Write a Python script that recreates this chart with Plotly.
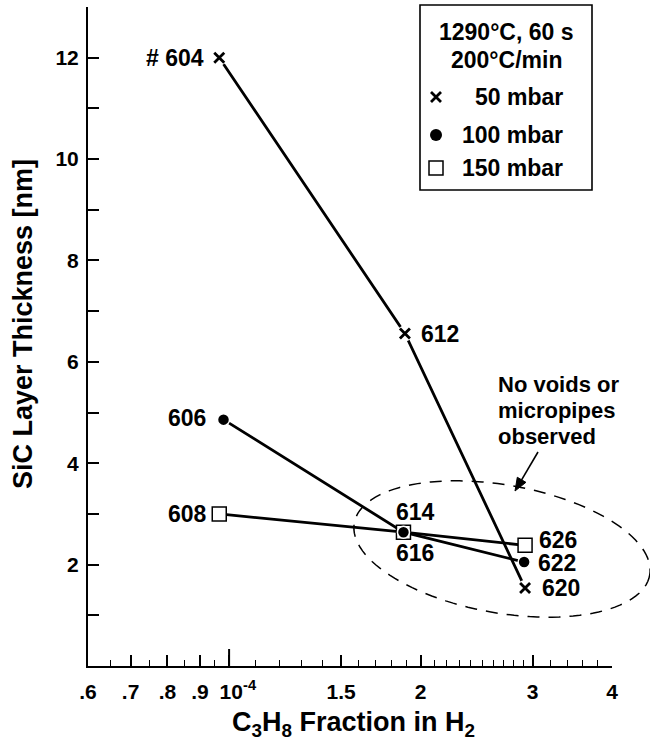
import math
import plotly.graph_objects as go

# ---------------- data (C3H8 fraction in units of 1e-4, thickness in nm) --------------
run_50 = ["# 604", "612", "620"]
x_50 = [0.965, 1.89, 2.92]
y_50 = [12.0, 6.56, 1.54]

run_100 = ["606", "616", "622"]
x_100 = [0.98, 1.88, 2.91]
y_100 = [4.86, 2.64, 2.05]

run_150 = ["608", "614", "626"]
x_150 = [0.965, 1.88, 2.92]
y_150 = [3.0, 2.64, 2.38]

# label placement: (anchor side, x shift px, y shift px)
place_50 = [("right", -13, 0), ("left", 14, -1), ("left", 15, 0)]
place_100 = [("right", -16, 2), ("left", -9, -21), ("left", 12, -1)]
place_150 = [("right", -10, 0), ("left", -9, 20), ("left", 12, 5)]

x_major = [0.6, 0.7, 0.8, 0.9, 1.0, 1.5, 2.0, 3.0, 4.0]
x_major_text = [".6", ".7", ".8", ".9", "&nbsp;&nbsp;&nbsp;10<sup>-4</sup>", "1.5", "2", "3", "4"]
x_minor = [0.65, 0.75, 0.85, 0.95, 1.1, 1.2, 1.3, 1.4, 1.6, 1.7, 1.8, 1.9,
           2.1, 2.2, 2.3, 2.4, 2.5, 2.6, 2.7, 2.8, 2.9, 3.2, 3.4, 3.6, 3.8]
y_major = [2, 4, 6, 8, 10, 12]
y_minor = [1, 3, 5, 7, 9, 11, 13]

legend_title = ["1290°C, 60 s", "200°C/min"]
legend_labels = ["50 mbar", "100 mbar", "150 mbar"]
note_lines = ["No voids or", "micropipes", "observed"]

SCALE = 1e-4
FONT = "Liberation Sans, Arial, sans-serif"

W, H = 650, 744
ML, MR, MT, MB = 88, 38, 7, 78
PW, PH = W - ML - MR, H - MT - MB


def px(xp):
    return (xp - ML) / PW


def py(yp):
    return (H - MB - yp) / PH


def sc(v):
    return [a * SCALE for a in v]


LINE_W = 2.8
fig = go.Figure()

# connecting lines
for xs, ys in [(x_50, y_50), (x_100, y_100), (x_150, y_150)]:
    fig.add_trace(go.Scatter(x=sc(xs), y=ys, mode="lines",
                             line=dict(color="black", width=LINE_W),
                             hoverinfo="skip", showlegend=False))

# white halos around the "x" markers (gaps in the line)
fig.add_trace(go.Scatter(x=sc(x_50), y=y_50, mode="markers",
                         marker=dict(symbol="circle", size=16, color="white"),
                         hoverinfo="skip", showlegend=False))

# 150 mbar: open squares
fig.add_trace(go.Scatter(x=sc(x_150), y=y_150, mode="markers",
                         marker=dict(symbol="square", size=14, color="white",
                                     line=dict(color="black", width=1.5)),
                         cliponaxis=False, showlegend=False))
# 100 mbar: filled dots
fig.add_trace(go.Scatter(x=sc(x_100), y=y_100, mode="markers",
                         marker=dict(symbol="circle", size=12, color="black",
                                     line=dict(color="white", width=1.5)),
                         cliponaxis=False, showlegend=False))
# 50 mbar: x
fig.add_trace(go.Scatter(x=sc(x_50), y=y_50, mode="markers",
                         marker=dict(symbol="x-thin", size=10, color="black",
                                     line=dict(color="black", width=2.8)),
                         cliponaxis=False, showlegend=False))

# legend box markers (on an overlay axis spanning paper coordinates)
leg_y = [py(97), py(135), py(168)]
leg_x = px(436)
fig.add_trace(go.Scatter(x=[leg_x], y=[leg_y[0]], mode="markers", xaxis="x2", yaxis="y2",
                         marker=dict(symbol="x-thin", size=10, color="black",
                                     line=dict(color="black", width=2.8)),
                         cliponaxis=False, showlegend=False, hoverinfo="skip"))
fig.add_trace(go.Scatter(x=[leg_x], y=[leg_y[1]], mode="markers", xaxis="x2", yaxis="y2",
                         marker=dict(symbol="circle", size=12, color="black"),
                         cliponaxis=False, showlegend=False, hoverinfo="skip"))
fig.add_trace(go.Scatter(x=[leg_x], y=[leg_y[2]], mode="markers", xaxis="x2", yaxis="y2",
                         marker=dict(symbol="square", size=14, color="white",
                                     line=dict(color="black", width=1.5)),
                         cliponaxis=False, showlegend=False, hoverinfo="skip"))

shapes = []
annotations = []

# point labels
label_font = dict(family=FONT, size=23, color="black", weight="bold")
for runs, xs, ys, places in [(run_50, x_50, y_50, place_50),
                             (run_100, x_100, y_100, place_100),
                             (run_150, x_150, y_150, place_150)]:
    for r, xv, yv, (side, dx, dy) in zip(runs, xs, ys, places):
        annotations.append(dict(x=math.log10(xv * SCALE), y=yv, xref="x", yref="y",
                                text=r, showarrow=False, font=label_font,
                                xanchor=side, yanchor="middle", xshift=dx, yshift=dy))

# legend frame
shapes.append(dict(type="rect", xref="paper", yref="paper",
                   x0=px(420), x1=px(592), y0=py(190), y1=py(5),
                   line=dict(color="black", width=1.6), fillcolor="rgba(0,0,0,0)"))
leg_font = dict(family=FONT, size=23, color="black", weight="bold")
annotations.append(dict(xref="paper", yref="paper", x=px(506), y=py(32), text=legend_title[0],
                        showarrow=False, font=leg_font, xanchor="center", yanchor="middle"))
annotations.append(dict(xref="paper", yref="paper", x=px(506), y=py(60), text=legend_title[1],
                        showarrow=False, font=leg_font, xanchor="center", yanchor="middle"))
for lab, ly in zip(legend_labels, leg_y):
    annotations.append(dict(xref="paper", yref="paper", x=px(565), y=ly, text=lab,
                            showarrow=False, font=leg_font, xanchor="right", yanchor="middle"))

# dashed ellipse
cx, cy, a, b, th = 502, 549, 150, 64, math.radians(10)
pts = []
for i in range(121):
    t = 2 * math.pi * i / 120
    xp = cx + a * math.cos(t) * math.cos(th) - b * math.sin(t) * math.sin(th)
    yp = cy + a * math.cos(t) * math.sin(th) + b * math.sin(t) * math.cos(th)
    pts.append((px(xp), py(yp)))
path = "M " + " L ".join(f"{u:.5f},{v:.5f}" for u, v in pts) + " Z"
shapes.append(dict(type="path", xref="paper", yref="paper", path=path,
                   line=dict(color="black", width=1.5, dash="12px,9px")))

# longer tick at 10^-4
x_dec = (math.log10(1.0) - math.log10(0.6)) / (math.log10(4.0) - math.log10(0.6))
shapes.append(dict(type="line", xref="paper", yref="paper", ysizemode="pixel", yanchor=0,
                   x0=x_dec, x1=x_dec, y0=0, y1=17, line=dict(color="black", width=2)))

# note text
note_font = dict(family=FONT, size=22, color="black", weight="bold")
for txt, yy in zip(note_lines, [384, 410, 437]):
    annotations.append(dict(xref="paper", yref="paper", x=px(496), y=py(yy), text=txt,
                            showarrow=False, font=note_font, xanchor="left", yanchor="middle"))

# arrow: shaft + head
tail = (538, 452)
head = (515, 491)
ang = math.atan2(head[1] - tail[1], head[0] - tail[0])
hl, hw = 13, 5
base = (head[0] - hl * math.cos(ang), head[1] - hl * math.sin(ang))
p1 = (base[0] + hw * math.sin(ang), base[1] - hw * math.cos(ang))
p2 = (base[0] - hw * math.sin(ang), base[1] + hw * math.cos(ang))
shapes.append(dict(type="line", xref="paper", yref="paper",
                   x0=px(tail[0]), y0=py(tail[1]), x1=px(base[0]), y1=py(base[1]),
                   line=dict(color="black", width=1.6)))
shapes.append(dict(type="path", xref="paper", yref="paper",
                   path=f"M {px(head[0]):.5f},{py(head[1]):.5f} L {px(p1[0]):.5f},{py(p1[1]):.5f} "
                        f"L {px(p2[0]):.5f},{py(p2[1]):.5f} Z",
                   fillcolor="black", line=dict(color="black", width=1)))

# axis titles
annotations.append(dict(xref="paper", yref="paper", x=px(353), y=py(724),
                        text="C<sub>3</sub>H<sub>8</sub> Fraction in H<sub>2</sub>",
                        showarrow=False, font=dict(family=FONT, size=27, color="black", weight="bold"),
                        xanchor="center", yanchor="middle"))
annotations.append(dict(xref="paper", yref="paper", x=px(23), y=py(324),
                        text="SiC Layer Thickness [nm]", textangle=-90,
                        showarrow=False, font=dict(family=FONT, size=27, color="black", weight="bold"),
                        xanchor="center", yanchor="middle"))

tick_font = dict(family=FONT, size=21, color="black", weight="bold")

fig.update_layout(
    width=W, height=H,
    margin=dict(l=ML, r=MR, t=MT, b=MB, autoexpand=False),
    paper_bgcolor="white", plot_bgcolor="white",
    showlegend=False,
    shapes=shapes, annotations=annotations,
    xaxis=dict(type="log", range=[math.log10(0.6 * SCALE), math.log10(4.0 * SCALE)],
               tickmode="array", tickvals=sc(x_major), ticktext=x_major_text, tickangle=0,
               ticks="inside", ticklen=11, tickwidth=1.6, tickcolor="black",
               minor=dict(tickmode="array", tickvals=sc(x_minor), ticks="inside",
                          ticklen=6, tickwidth=1.4, tickcolor="black", showgrid=False),
               showline=True, linecolor="black", linewidth=2, mirror=False,
               showgrid=False, zeroline=False, tickfont=tick_font, ticklabelstandoff=6),
    yaxis=dict(range=[0, 13], tickmode="array", tickvals=y_major,
               ticks="inside", ticklen=11, tickwidth=1.6, tickcolor="black",
               minor=dict(tickmode="array", tickvals=y_minor, ticks="inside",
                          ticklen=11, tickwidth=1.6, tickcolor="black", showgrid=False),
               showline=True, linecolor="black", linewidth=2, mirror=False,
               showgrid=False, zeroline=False, tickfont=tick_font, ticklabelstandoff=3),
    xaxis2=dict(overlaying="x", range=[0, 1], visible=False, anchor="y2"),
    yaxis2=dict(overlaying="y", range=[0, 1], visible=False, anchor="x2"),
)

fig.write_html("out.html", config={"displayModeBar": False},
               post_script="document.body.style.margin='0px';")
